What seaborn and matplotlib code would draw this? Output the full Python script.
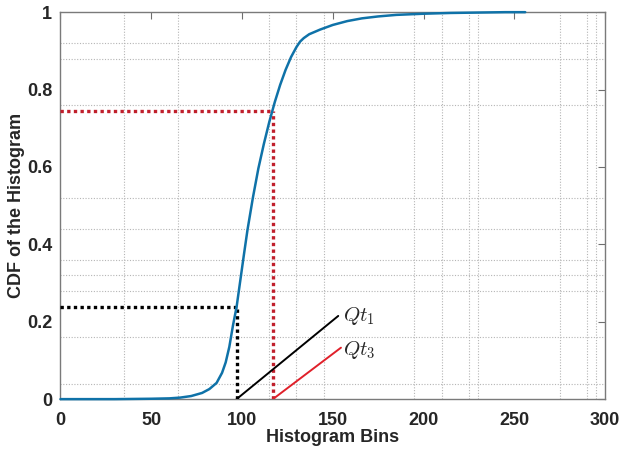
import numpy as np
import pandas as pd
import matplotlib
matplotlib.use('Agg')
import matplotlib.pyplot as plt
import seaborn as sns

# CDF curve
bins = [0, 30, 50, 60, 66, 72, 78, 82, 86, 89, 91, 93, 95, 97, 99, 101, 103, 106,
        109, 112, 115, 118, 121, 124, 127, 130, 132, 134, 137, 143, 150, 158, 166,
        175, 185, 200, 215, 230, 245, 256]
cdf = [0, 0, 0.001, 0.002, 0.004, 0.008, 0.016, 0.026, 0.042, 0.068, 0.095, 0.135,
       0.19, 0.238, 0.305, 0.372, 0.437, 0.521, 0.596, 0.659, 0.716, 0.767, 0.812,
       0.851, 0.884, 0.91, 0.924, 0.933, 0.943, 0.955, 0.967, 0.977, 0.984, 0.989,
       0.993, 0.996, 0.998, 0.999, 1.0, 1.0]

# quartile points
q1_bin, q1_cdf = 97, 0.238
q3_bin, q3_cdf = 117, 0.745

# pointer lines to the labels
qt1_end = (153, 0.215)
qt3_end = (154.5, 0.133)
labels = ['$Qt_1$', '$Qt_3$']

# odd grid positions seen in the figure
xgrid = [35, 50, 65, 115, 130, 145, 150, 195, 200, 210, 225, 230, 275, 290, 295]
ygrid = [0.04, 0.16, 0.2, 0.28, 0.32, 0.36, 0.44, 0.52, 0.6, 0.76, 0.88, 0.92]

xticks = [0, 50, 100, 150, 200, 250, 300]
yticks = [0, 0.2, 0.4, 0.6, 0.8, 1]
yticklabels = ['0', '0.2', '0.4', '0.6', '0.8', '1']

sns.set_style('white')
plt.rcParams['font.family'] = ['Liberation Sans', 'DejaVu Sans']
plt.rcParams['mathtext.fontset'] = 'cm'

df = pd.DataFrame({'bin': bins, 'cdf': cdf})

fig = plt.figure(figsize=(6.21, 4.51), dpi=100)
ax = fig.add_axes([0.0974, 0.115, 0.877, 0.858])

sns.lineplot(data=df, x='bin', y='cdf', ax=ax, color='#0f72a8', lw=1.8,
             zorder=5, clip_on=False)

red = '#c01f2c'
dots = (0, (1, 1))
ax.plot([0, q1_bin], [q1_cdf, q1_cdf], color='black', lw=2.4, ls=dots, zorder=4)
ax.plot([q1_bin, q1_bin], [0, q1_cdf], color='black', lw=2.4, ls=dots, zorder=4)
ax.plot([0, q3_bin], [q3_cdf, q3_cdf], color=red, lw=2.4, ls=dots, zorder=4)
ax.plot([q3_bin, q3_bin], [0, q3_cdf], color=red, lw=2.4, ls=dots, zorder=4)

ax.plot([q1_bin, qt1_end[0]], [0, qt1_end[1]], color='black', lw=1.4, zorder=4)
ax.plot([q3_bin, qt3_end[0]], [0, qt3_end[1]], color='#e0202a', lw=1.4, zorder=4)
ax.text(qt1_end[0] + 2.5, qt1_end[1], labels[0], fontsize=15, va='center', ha='left')
ax.text(qt3_end[0] + 1, qt3_end[1] - 0.005, labels[1], fontsize=15, va='center', ha='left')

ax.set_xlim(0, 300)
ax.set_ylim(0, 1)
ax.set_xticks(xticks)
ax.set_yticks(yticks)
ax.set_yticklabels(yticklabels)
ax.set_xticks(xgrid, minor=True)
ax.set_yticks(ygrid, minor=True)
ax.grid(False, which='major')
ax.grid(True, which='minor', color='#b5b5b5', ls=(0, (1, 1.5)), lw=0.8)
ax.tick_params(which='minor', length=0)
ax.tick_params(which='major', direction='in', length=5, width=0.8, color='#6e6e6e',
               top=True, right=True, labelsize=13)
ax.tick_params(axis='x', which='major', pad=9)
ax.tick_params(axis='y', which='major', pad=6)
for lab in ax.get_xticklabels() + ax.get_yticklabels():
    lab.set_fontweight('bold')
for sp in ax.spines.values():
    sp.set_color('#7a7a7a')
    sp.set_linewidth(1.0)

ax.set_xlabel('Histogram Bins', fontsize=13, fontweight='bold', labelpad=0)
ax.set_ylabel('CDF of the Histogram', fontsize=13, fontweight='bold')
ax.yaxis.set_label_coords(-0.066, 0.5)

fig.savefig('out.png', dpi=100)
